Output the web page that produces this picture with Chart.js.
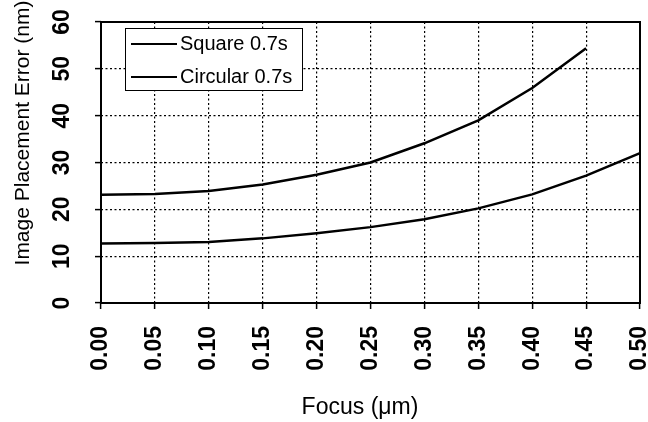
<!DOCTYPE html>
<html>
<head>
<meta charset="utf-8">
<script src="https://cdn.jsdelivr.net/npm/chart.js@4/dist/chart.umd.min.js"></script>
<style>
  html, body { margin: 0; padding: 0; background: #fff; }
  #wrap { width: 648px; height: 422px; }
</style>
</head>
<body>
<div id="wrap"><canvas id="focusChart" width="648" height="422"></canvas></div>
<script>
// focus values along the x axis (um)
const focusLabels = ['0.00', '0.05', '0.10', '0.15', '0.20', '0.25', '0.30', '0.35', '0.40', '0.45', '0.50'];

// image placement error (nm)
const squareErr = [23.1, 23.3, 23.9, 25.3, 27.4, 30.0, 34.1, 39.0, 45.9, 54.4];
const circularErr = [12.7, 12.8, 13.0, 13.8, 14.9, 16.2, 17.9, 20.2, 23.2, 27.2, 32.0];

const seriesNames = ['Square 0.7s', 'Circular 0.7s'];

const yTicks = [0, 10, 20, 30, 40, 50, 60];

const FONT = 'Liberation Sans, Arial, Helvetica, sans-serif';

// frame round the plot, axis titles and the boxed legend
const framePlugin = {
  id: 'frame',
  afterDraw(chart) {
    const ctx = chart.ctx;
    const a = chart.chartArea;
    ctx.save();
    ctx.strokeStyle = '#000';
    ctx.lineWidth = 2;
    ctx.setLineDash([]);
    ctx.strokeRect(a.left, a.top, a.right - a.left, a.bottom - a.top);

    // axis titles
    ctx.fillStyle = '#000';
    ctx.textAlign = 'center';
    ctx.textBaseline = 'middle';
    ctx.font = '23px ' + FONT;
    ctx.fillText('Focus (\u03bcm)', 360, 408);
    ctx.font = '21px ' + FONT;
    ctx.save();
    ctx.translate(23, 133);
    ctx.rotate(-Math.PI / 2);
    ctx.fillText('Image Placement Error (nm)', 0, 0);
    ctx.restore();

    // legend
    const bx = 125, by = 28, bw = 177, bh = 62;
    ctx.lineWidth = 1;
    ctx.fillStyle = '#fff';
    ctx.fillRect(bx, by, bw, bh);
    ctx.strokeRect(bx + 0.5, by + 0.5, bw, bh);
    ctx.font = '20px ' + FONT;
    ctx.textAlign = 'left';
    chart.data.datasets.forEach((ds, i) => {
      const yy = by + 16 + i * 33;
      ctx.strokeStyle = ds.borderColor;
      ctx.lineWidth = 2;
      ctx.beginPath();
      ctx.moveTo(bx + 6, yy);
      ctx.lineTo(bx + 52, yy);
      ctx.stroke();
      ctx.fillStyle = '#000';
      ctx.fillText(ds.label, bx + 55, yy);
    });
    ctx.restore();
  }
};

const ctx = document.getElementById('focusChart').getContext('2d');
const focusChart = new Chart(ctx, {
  type: 'line',
  data: {
    labels: focusLabels,
    datasets: [{
      label: seriesNames[0],
      data: squareErr,
      borderColor: '#000',
      borderWidth: 2.5,
      pointRadius: 0,
      tension: 0,
      fill: false
    }, {
      label: seriesNames[1],
      data: circularErr,
      borderColor: '#000',
      borderWidth: 2.5,
      pointRadius: 0,
      tension: 0,
      fill: false
    }]
  },
  options: {
    responsive: false,
    animation: false,
    devicePixelRatio: 1,
    layout: { padding: { left: 0, right: 8, top: 22, bottom: 0 } },
    plugins: {
      legend: { display: false },
      tooltip: { enabled: false }
    },
    scales: {
      x: {
        type: 'category',
        grid: {
          color: '#000',
          lineWidth: 1.2,
          tickLength: 6,
          tickColor: '#000',
          tickWidth: 1.5,
          tickBorderDash: []
        },
        border: { display: false, dash: [2, 2.5] },
        ticks: {
          color: '#000',
          font: { family: FONT, size: 23, weight: 'bold' },
          minRotation: 90,
          maxRotation: 90,
          padding: 17,
          autoSkip: false
        },
        afterFit(scale) {
          scale.height = 119;
          scale.paddingLeft = 0;
          scale.paddingRight = 0;
        }
      },
      y: {
        min: 0,
        max: 60,
        afterBuildTicks(scale) {
          scale.ticks = yTicks.map(v => ({ value: v }));
        },
        grid: {
          color: '#000',
          lineWidth: 1.2,
          tickLength: 6,
          tickColor: '#000',
          tickWidth: 1.5,
          tickBorderDash: []
        },
        border: { display: false, dash: [2, 2.5] },
        ticks: {
          color: '#000',
          font: { family: FONT, size: 23, weight: 'bold' },
          minRotation: 90,
          maxRotation: 90,
          crossAlign: 'center',
          padding: 20
        },
        afterFit(scale) {
          scale.width = 101;
          scale.paddingTop = 0;
          scale.paddingBottom = 0;
        }
      }
    }
  },
  plugins: [framePlugin]
});
</script>
</body>
</html>
